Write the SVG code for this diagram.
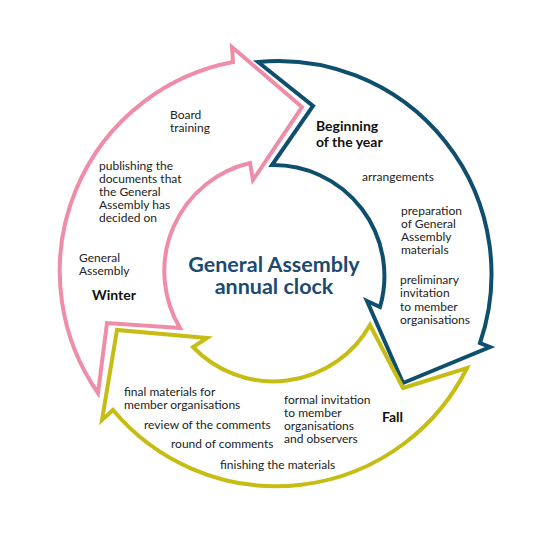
<svg xmlns="http://www.w3.org/2000/svg" width="550" height="553" viewBox="0 0 550 553">
<style>
.arrow{fill:#fff;stroke-width:4;stroke-linejoin:miter;stroke-miterlimit:10}
.pink{stroke:#EF8DA8}
.blue{stroke:#0F4F6E}
.yellow{stroke:#C6BD14}
text{font-family:Lato,"Open Sans","Liberation Sans",sans-serif;fill:#222;font-size:12px}
.season{font-weight:bold;font-size:14px;fill:#111}
.title{font-weight:bold;font-size:21.5px;fill:#1C4A70;text-anchor:middle}
</style>
<rect width="550" height="553" fill="#fff"/>
<g id="arrow-winter">
<path class="arrow pink" d="M98,393 A213,213 0 0 1 233,62 L232,47 L302,107 L253,180 L250,163 A111,111 0 0 0 180,328 L107,323 Z"/>
</g>
<g id="arrow-beginning">
<path class="arrow blue" d="M258,62 A213,213 0 0 1 480,343 L490,347 L403,383 L367,301 L380,307 A111,111 0 0 0 272,165 L313,106 Z"/>
</g>
<g id="arrow-fall">
<path class="arrow yellow" d="M467,368 A213,213 0 0 1 113,410 L102,420 L117,330 L207,338 L193,347 A111,111 0 0 0 370,325 L403,388 Z"/>
</g>
<g id="title">
<text class="title" x="274" y="272">General Assembly</text>
<text class="title" x="274" y="294">annual clock</text>
</g>
<g id="winter-texts">
<text x="170" y="119">Board</text>
<text x="170" y="132">training</text>
<text x="99" y="170">publishing the</text>
<text x="99" y="183">documents that</text>
<text x="99" y="196">the General</text>
<text x="99" y="209">Assembly has</text>
<text x="99" y="222">decided on</text>
<text x="79" y="262">General</text>
<text x="79" y="275">Assembly</text>
<text class="season" x="92" y="300">Winter</text>
</g>
<g id="beginning-texts">
<text class="season" x="316" y="131">Beginning</text>
<text class="season" x="316" y="147">of the year</text>
<text x="362" y="181">arrangements</text>
<text x="401" y="215">preparation</text>
<text x="401" y="228">of General</text>
<text x="401" y="241">Assembly</text>
<text x="401" y="254">materials</text>
<text x="400" y="284">preliminary</text>
<text x="400" y="297">invitation</text>
<text x="400" y="311">to member</text>
<text x="400" y="324">organisations</text>
</g>
<g id="fall-texts">
<text x="124" y="396">final materials for</text>
<text x="124" y="409">member organisations</text>
<text x="144" y="429">review of the comments</text>
<text x="171" y="448">round of comments</text>
<text x="220" y="469">finishing the materials</text>
<text x="284" y="404">formal invitation</text>
<text x="284" y="417">to member</text>
<text x="284" y="430">organisations</text>
<text x="284" y="443">and observers</text>
<text class="season" x="382" y="422">Fall</text>
</g>
</svg>
